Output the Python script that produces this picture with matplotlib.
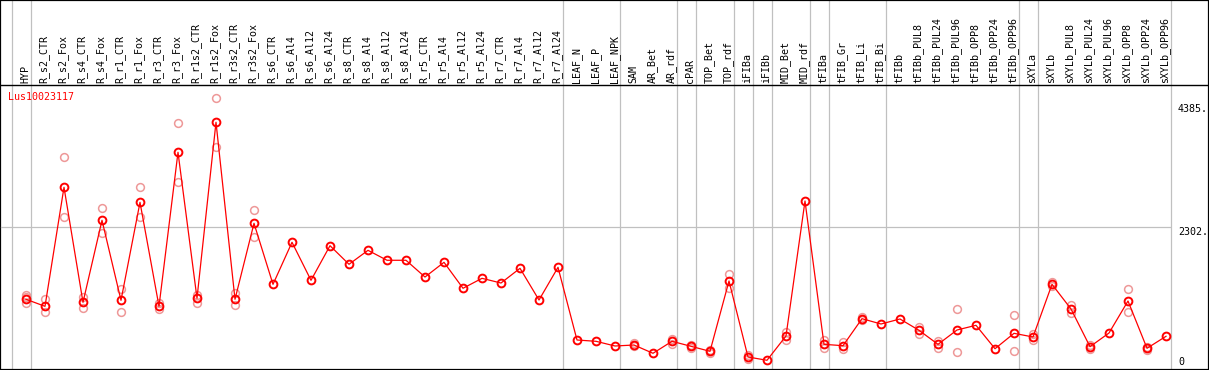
import numpy as np
import matplotlib
matplotlib.use("Agg")
import matplotlib.pyplot as plt

gene = "Lus10023117"

samples = ["HYP", "R_s2_CTR", "R_s2_Fox", "R_s4_CTR", "R_s4_Fox", "R_r1_CTR", "R_r1_Fox",
           "R_r3_CTR", "R_r3_Fox", "R_r1s2_CTR", "R_r1s2_Fox", "R_r3s2_CTR", "R_r3s2_Fox",
           "R_s6_CTR", "R_s6_Al4", "R_s6_Al12", "R_s6_Al24", "R_s8_CTR", "R_s8_Al4",
           "R_s8_Al12", "R_s8_Al24", "R_r5_CTR", "R_r5_Al4", "R_r5_Al12", "R_r5_Al24",
           "R_r7_CTR", "R_r7_Al4", "R_r7_Al12", "R_r7_Al24", "LEAF_N", "LEAF_P", "LEAF_NPK",
           "SAM", "AR_Bet", "AR_rdf", "cPAR", "TOP_Bet", "TOP_rdf", "iFIBa", "iFIBb",
           "MID_Bet", "MID_rdf", "tFIBa", "tFIB_Gr", "tFIB_Li", "tFIB_Bi", "tFIBb",
           "tFIBb_PUL8", "tFIBb_PUL24", "tFIBb_PUL96", "tFIBb_OPP8", "tFIBb_OPP24",
           "tFIBb_OPP96", "sXYLa", "sXYLb", "sXYLb_PUL8", "sXYLb_PUL24", "sXYLb_PUL96",
           "sXYLb_OPP8", "sXYLb_OPP24", "sXYLb_OPP96"]

# mean expression per sample
means = [1133, 1019, 2945, 1084, 2411, 1116, 2702, 1019, 3511, 1149, 3997, 1133, 2362,
         1375, 2055, 1440, 2000, 1699, 1925, 1764, 1764, 1493, 1731, 1311, 1472,
         1396, 1634, 1121, 1650, 474, 453, 377,
         393, 259, 453, 372, 291, 1429, 199, 146,
         539, 2723, 404, 382, 819, 733, 814,
         631, 404, 636, 712, 333, 582,
         523, 1375, 976, 366, 587, 1105, 340, 534]

# replicates (None = not shown)
rep_a = [1202, 1137, 3430, 1175, 2605, 1299, 2945, 1078, 3980, 1202, 4385, 1230, 2573,
         None, None, None, None, None, None, None, None, None, None, None, None,
         None, None, None, None, None, None, None,
         420, None, 490, 390, 310, 1542, 225, None,
         608, None, 474, 440, 851, None, None,
         684, 460, 976, None, None, 874,
         575, 1412, 1036, 395, None, 1294, 365, None]
rep_b = [1068, 922, 2459, 992, 2210, 922, 2459, 981, 3026, 1078, 3602, 1036, 2136,
         None, None, None, None, None, None, None, None, None, None, None, None,
         None, None, None, None, None, None, None,
         370, None, 415, 345, 265, 1315, 170, None,
         469, None, 350, 324, 790, None, None,
         571, 350, 275, None, None, 291,
         480, 1340, 906, 335, None, 927, 310, None]
rep_c = [1175] + [None] * 60

# index of last sample in each group
group_ends = [-1, 0, 28, 31, 34, 35, 37, 38, 39, 41, 42, 45, 52, 53, 60]

ticks = [4385, 2302, 0]

W, H = 1209, 370
fig = plt.figure(figsize=(W / 100, H / 100), dpi=100)
font = dict(family="DejaVu Sans Mono", size=7.2)

step = 19.0
x0 = 26.0
xlim = (-x0 / step, (W - x0) / step)

# header / frame axes in pixel rows
hdr = fig.add_axes([0, 0, 1, 1])
hdr.set_xlim(xlim)
hdr.set_ylim(H, 0)
hdr.set_xticks([])
hdr.set_yticks([])
for s in hdr.spines.values():
    s.set_linewidth(1.6)
    s.set_color("black")

for g in group_ends:
    hdr.axvline(g + 0.24, color="#c0c0c0", lw=0.9, zorder=1)
hdr.axhline(85, color="black", lw=1.0, zorder=2)

x = np.arange(len(samples))
for i, lab in enumerate(samples):
    hdr.text(i - 0.05, 83, lab, rotation=90, ha="center", va="bottom", color="black", **font)

# data axes
bottom = 369.3
top = 85
ax = fig.add_axes([0, (H - bottom) / H, 1, (bottom - top) / H], facecolor="none")
ax.set_xlim(xlim)
ax.set_ylim(0, 4600)
ax.axis("off")

ax.axhline(ticks[1], xmin=0.001, xmax=1170 / W, color="#c0c0c0", lw=0.9, zorder=1)

reps_col = "#ee9898"
for reps in (rep_a, rep_b, rep_c):
    r = np.array([np.nan if v is None else v for v in reps], dtype=float)
    ax.plot(x, r, linestyle="none", marker="o", ms=5.6, mfc="none", mec=reps_col,
            mew=1.1, zorder=2)

ax.plot(x, means, color="red", lw=0.9, marker="o", ms=5.6, mfc="none", mec="red",
        mew=1.4, zorder=3)

ytr = ax.get_yaxis_transform()
lx = 1178 / W
ax.annotate("%d." % ticks[0], (lx, ticks[0]), xycoords=ytr, xytext=(0, -4),
            textcoords="offset points", ha="left", va="top", color="black", **font)
ax.annotate("%d." % ticks[1], (lx, ticks[1]), xycoords=ytr, xytext=(0, 0),
            textcoords="offset points", ha="left", va="top", color="black", **font)
ax.annotate("%d" % ticks[2], (lx, ticks[2]), xycoords=ytr, xytext=(0, 2),
            textcoords="offset points", ha="left", va="bottom", color="black", **font)

fig.text(8 / W, 1 - 97 / H, gene, color="red", ha="left", va="center", **font)

fig.savefig("out.png", dpi=100)
